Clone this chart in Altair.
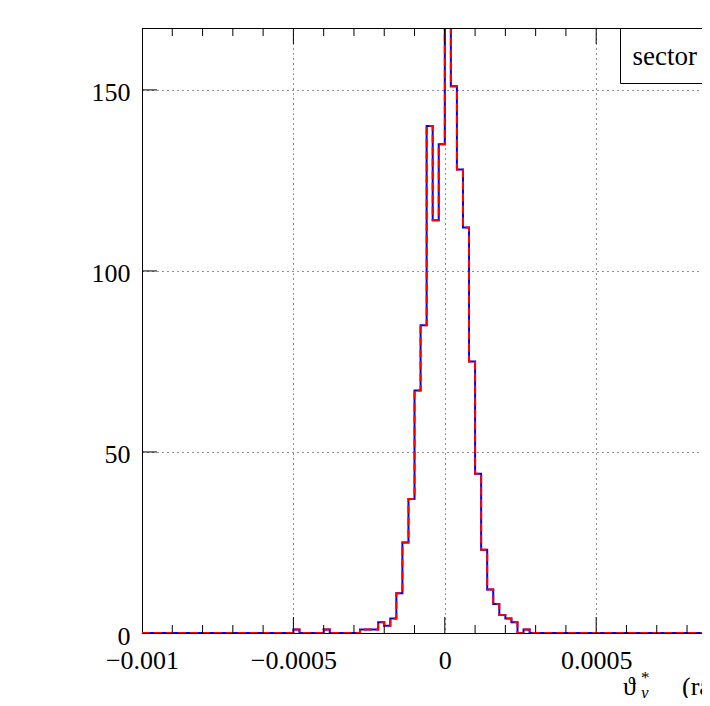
import altair as alt
import pandas as pd

# ---------------- data ----------------
BIN_START = -0.001
BIN_WIDTH = 0.00002
N_BINS = 100
FILLED_BINS = [25, 30, 36, 37, 38, 39, 40, 41, 42, 43, 44, 45, 46, 47, 48, 49,
               50, 51, 52, 53, 54, 55, 56, 57, 58, 59, 60, 61, 63]
FILLED_COUNTS = [1, 1, 1, 1, 1, 3, 2, 4, 11, 25, 37, 67, 85, 140, 114, 135,
                 168, 151, 128, 112, 75, 44, 23, 12, 8, 5, 4, 3, 1]

X_MIN = -0.001
X_MAX = 0.0008494         # right edge of the visible (cropped) frame
Y_MAX = 167.1

X_LABEL_TICKS = [-0.001, -0.0005, 0.0, 0.0005]
X_MINOR_TICKS = [-0.0009, -0.0008, -0.0007, -0.0006, -0.0004, -0.0003, -0.0002,
                 -0.0001, 0.0001, 0.0002, 0.0003, 0.0004, 0.0006, 0.0007, 0.0008]
Y_LABEL_TICKS = [0, 50, 100, 150]
Y_MAJOR_TICKS = [50, 100, 150]

LEGEND_TEXT = "sector 56"

# ---------------- layout ----------------
W, H = 560, 605
FONT = "Liberation Serif, DejaVu Serif, serif"

counts = [0] * N_BINS
for b, c in zip(FILLED_BINS, FILLED_COUNTS):
    counts[b] = c
edges = [BIN_START + i * BIN_WIDTH for i in range(N_BINS + 1)]
hist = pd.DataFrame({"x": edges, "count": counts + [counts[-1]]})

x_scale = alt.Scale(domain=[X_MIN, X_MAX], nice=False, zero=False)
y_scale = alt.Scale(domain=[0, Y_MAX], nice=False, zero=True)

x_axis = alt.Axis(values=X_LABEL_TICKS, format="~g", grid=True, gridDash=[1, 4],
                  gridColor="#222", gridWidth=1, ticks=False, tickSize=0,
                  domain=True, domainColor="black", domainWidth=1,
                  labelFont=FONT, labelFontSize=26, labelColor="black",
                  labelPadding=14, labelFlush=False, labelOverlap=False, title=None)
y_axis = alt.Axis(values=Y_LABEL_TICKS, format="d", grid=True, gridDash=[1, 4],
                  gridColor="#222", gridWidth=1, ticks=False, tickSize=0,
                  domain=True, domainColor="black", domainWidth=1,
                  labelFont=FONT, labelFontSize=26, labelColor="black",
                  labelPadding=12, labelOffset=3, labelOverlap=False, title=None)

X = lambda: alt.X("x:Q", scale=x_scale, axis=x_axis)

blue = alt.Chart(hist).mark_line(interpolate="step-after", color="#0000ff",
                                 strokeWidth=2, clip=True).encode(
    x=X(), y=alt.Y("count:Q", scale=y_scale, axis=y_axis))
red = alt.Chart(hist).mark_line(interpolate="step-after", color="#ff0000",
                                strokeWidth=2, strokeDash=[8, 4], clip=True).encode(
    x=X(), y=alt.Y("count:Q", scale=y_scale, axis=y_axis))

one = pd.DataFrame({"a": [0]})
top_frame = alt.Chart(one).mark_rule(color="black", strokeWidth=1).encode(
    x=alt.value(0), x2=alt.value(W), y=alt.value(0.5))

xmaj = pd.DataFrame({"x": X_LABEL_TICKS[1:]})
xmin = pd.DataFrame({"x": X_MINOR_TICKS})
ymaj = pd.DataFrame({"count": Y_MAJOR_TICKS})

def xticks(df, length):
    bot = alt.Chart(df).mark_rule(color="black", strokeWidth=1).encode(
        x=X(), y=alt.value(H), y2=alt.value(H - length))
    top = alt.Chart(df).mark_rule(color="black", strokeWidth=1).encode(
        x=X(), y=alt.value(0), y2=alt.value(length))
    return [bot, top]

yticks = alt.Chart(ymaj).mark_rule(color="black", strokeWidth=1).encode(
    y=alt.Y("count:Q", scale=y_scale, axis=y_axis), x=alt.value(0), x2=alt.value(15))

legend_box = alt.Chart(one).mark_rect(fill="white", stroke="black", strokeWidth=1).encode(
    x=alt.value(478.5), x2=alt.value(W + 40), y=alt.value(0.5), y2=alt.value(55.5))
legend_text = alt.Chart(one).mark_text(align="left", baseline="alphabetic", font=FONT,
                                       fontSize=27, color="black", text=LEGEND_TEXT).encode(
    x=alt.value(490.5), y=alt.value(37))

t_theta = alt.Chart(one).mark_text(align="left", baseline="alphabetic", font=FONT,
                                   fontSize=26, color="black", text="ϑ").encode(
    x=alt.value(481), y=alt.value(667))
t_star = alt.Chart(one).mark_text(align="left", baseline="alphabetic", font=FONT,
                                  fontSize=17, color="black", text="*").encode(
    x=alt.value(499), y=alt.value(655))
t_sub = alt.Chart(one).mark_text(align="left", baseline="alphabetic", font=FONT,
                                 fontSize=17, fontStyle="italic", color="black", text="y").encode(
    x=alt.value(499), y=alt.value(670))
t_unit = alt.Chart(one).mark_text(align="left", baseline="alphabetic", font=FONT,
                                  fontSize=26, color="black", text="(rad)").encode(
    x=alt.value(540), y=alt.value(667))

layers = [blue, red, top_frame] + xticks(xmaj, 16) + xticks(xmin, 8) + [
    yticks, legend_box, legend_text, t_theta, t_star, t_sub, t_unit]

chart = alt.layer(*layers).properties(
    width=W, height=H,
    autosize=alt.AutoSizeParams(type="none"),
    padding={"left": 134, "top": 20, "right": 0, "bottom": 65},
    background="white",
).configure_view(stroke=None)

chart.save("out.html", embed_options={"renderer": "svg", "actions": False})
